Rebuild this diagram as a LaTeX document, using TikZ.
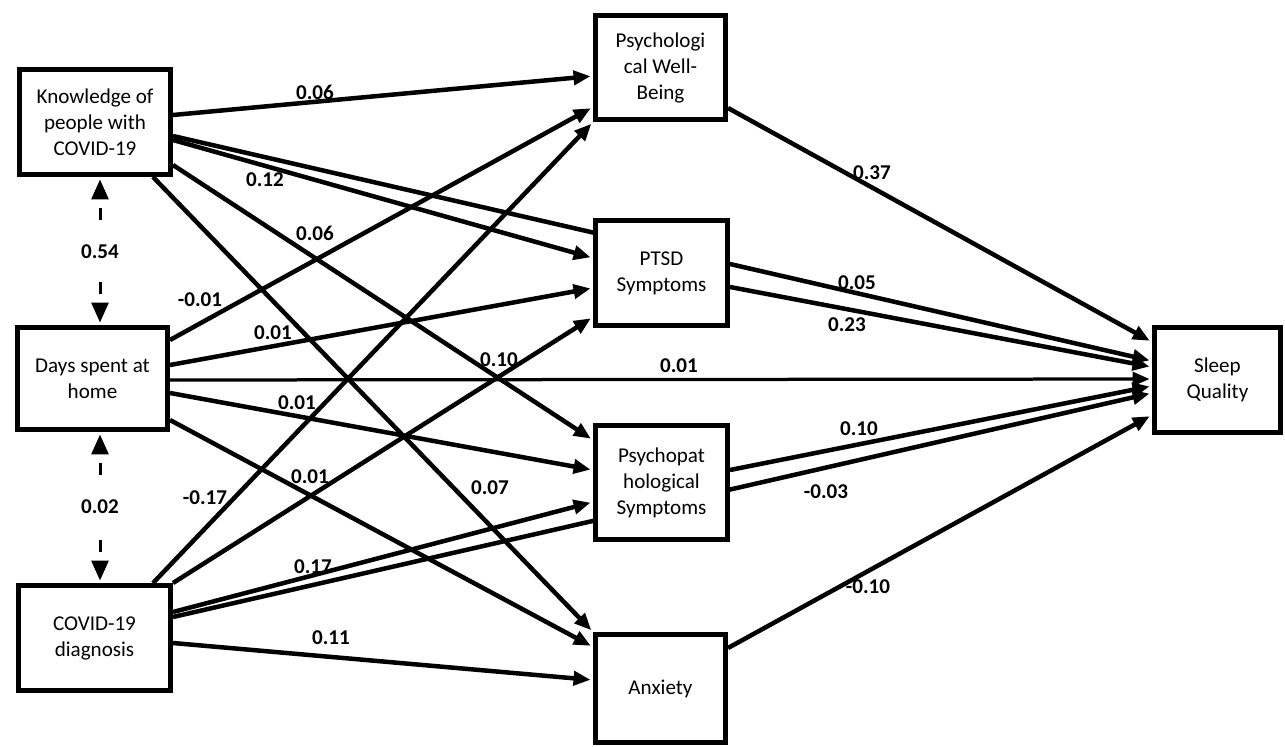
\documentclass[tikz,border=0pt]{standalone}
\usepackage{fontspec}
\setmainfont{Carlito}
\usepackage{tikz}
\usetikzlibrary{arrows.meta, backgrounds}

\tikzset{
  var/.style={draw, line width=0.1cm, fill=white, align=center, inner sep=0pt,
    font=\fontsize{12}{14.8}\selectfont},
  effect/.style={line width=0.09cm, -{Triangle[length=0.34cm,width=0.28cm]}, shorten >=0.05cm},
  corr/.style={line width=0.06cm, dash pattern=on 0.24cm off 0.96cm, dash phase=1.02cm,
    {Triangle[length=0.4cm,width=0.34cm]}-, shorten <=0.05cm},
  coef/.style={font=\fontsize{12}{14}\selectfont\bfseries, inner sep=1pt}
}

\begin{document}
\begin{tikzpicture}[x=0.02cm, y=-0.02cm]
  \useasboundingbox (0,0) rectangle (1285,747);

  % Praediktoren
  \node[var, minimum width=3.02cm, minimum height=2.1cm] (know) at (95,122) {Knowledge of\\people with\\COVID-19};
  \node[var, minimum width=3.0cm, minimum height=2.04cm] (days) at (92.5,378.5) {Days spent at\\home};
  \node[var, minimum width=3.04cm, minimum height=2.1cm] (diag) at (94.5,638) {COVID-19\\diagnosis};

  % Mediatoren
  \node[var, minimum width=2.6cm, minimum height=2.08cm] (pwb) at (660.5,67.5) {Psychologi\\cal Well-\\Being};
  \node[var, minimum width=2.64cm, minimum height=2.1cm] (ptsd) at (661.5,273) {PTSD\\Symptoms};
  \node[var, minimum width=2.64cm, minimum height=2.28cm] (psy) at (661.5,482.5) {Psychopat\\hological\\Symptoms};
  \node[var, minimum width=2.6cm, minimum height=2.16cm] (anx) at (660.5,688.5) {Anxiety};

  % Outcome
  \node[var, minimum width=2.52cm, minimum height=2.1cm] (sleep) at (1217.5,380) {Sleep\\Quality};

  \begin{pgfonlayer}{background}
    % Knowledge
    \draw[effect] (know.east |- 0,115) -- (pwb.west |- 0,76);
    \draw[effect] (know.east |- 0,136) -- (sleep.west |- 0,361);
    \draw[effect] (know.east |- 0,140) -- (ptsd.west |- 0,258);
    \draw[effect] (know.east |- 0,165) -- (psy.west |- 0,440);
    \draw[effect] (know.south -| 153,0) -- (anx.north west);
    % Days spent at home
    \draw[effect] (days.east |- 0,340) -- (pwb.west |- 0,107);
    \draw[effect] (days.east |- 0,365) -- (ptsd.west |- 0,288);
    \draw[effect, line width=0.065cm] (days.east |- 0,380) -- (sleep.west |- 0,379);
    \draw[effect] (days.east |- 0,393) -- (psy.west |- 0,470);
    \draw[effect] (days.east |- 0,420) -- (anx.west |- 0,647);
    % COVID-19 diagnosis
    \draw[effect] (diag.north -| 153,0) -- (pwb.south west);
    \draw[effect] (diag.north east) -- (ptsd.west |- 0,317);
    \draw[effect] (diag.east |- 0,612) -- (psy.west |- 0,502);
    \draw[effect] (diag.east |- 0,617) -- (sleep.west |- 0,393);
    \draw[effect] (diag.east |- 0,643) -- (anx.west |- 0,680);
    % Mediatoren -> Sleep Quality
    \draw[effect] (pwb.east |- 0,108) -- (sleep.west |- 0,342);
    \draw[effect] (ptsd.east |- 0,287) -- (sleep.west |- 0,367);
    \draw[effect] (psy.east |- 0,470) -- (sleep.west |- 0,386);
    \draw[effect] (anx.east |- 0,648) -- (sleep.west |- 0,415);
  \end{pgfonlayer}

  % Koeffizienten
  \node[coef] (k1) at (315,92) {0.06};
  \node[coef] (k2) at (265,180) {0.12};
  \node[coef] (k3) at (315,233) {0.06};
  \node[coef] (k4) at (490,488) {0.07};
  \node[coef] (d1) at (200,300) {-0.01};
  \node[coef] (d2) at (273,333) {0.01};
  \node[coef] (d3) at (679,366) {0.01};
  \node[coef] (d4) at (297,403) {0.01};
  \node[coef] (d5) at (310,477) {0.01};
  \node[coef] (g1) at (205,498) {-0.17};
  \node[coef] (g2) at (499,360) {0.10};
  \node[coef] (g3) at (313,567) {0.17};
  \node[coef] (g4) at (331,638) {0.11};
  \node[coef] (s1) at (872,173) {0.37};
  \node[coef] (s2) at (857,283) {0.05};
  \node[coef] (s3) at (847,325) {0.23};
  \node[coef] (s4) at (859,429) {0.10};
  \node[coef] (s5) at (826,492) {-0.03};
  \node[coef] (s6) at (868,587) {-0.10};

  % Korrelationen
  \node[coef] (r1) at (100,252) {0.54};
  \draw[corr] (r1 |- know.south) -- (r1);
  \draw[corr] (r1 |- days.north) -- (r1);
  \node[coef] (r2) at (100,507) {0.02};
  \draw[corr] (r2 |- days.south) -- (r2);
  \draw[corr] (r2 |- diag.north) -- (r2);
\end{tikzpicture}
\end{document}
